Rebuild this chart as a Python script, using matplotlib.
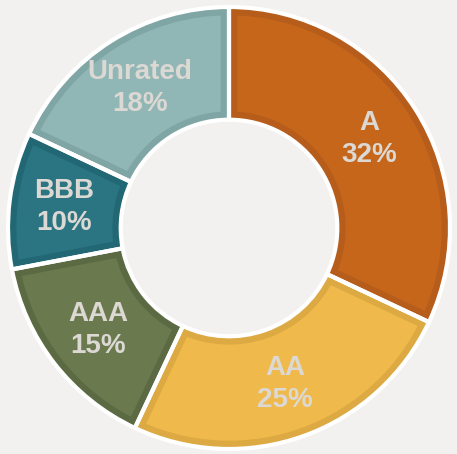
import numpy as np
import matplotlib.pyplot as plt

labels = ['A', 'AA', 'AAA', 'BBB', 'Unrated']
shares = [32, 25, 15, 10, 18]
fill_colors = ['#c5661b', '#f0b94b', '#6b7a4e', '#2a7581', '#90b6b5']
edge_colors = ['#b65d1c', '#dca942', '#5b6a42', '#226874', '#80a5a5']

bg = '#f3f1ef'
fig = plt.figure(figsize=(4.57, 4.54), dpi=100)
fig.patch.set_facecolor(bg)
ax = fig.add_axes([0, 0, 1, 1])
ax.set_facecolor(bg)

wedges, texts = ax.pie(shares, colors=fill_colors, startangle=90, counterclock=False,
                       radius=1.0, wedgeprops=dict(width=0.51))

# darker inner border on each slice (stroke clipped to the slice itself)
for w, ec in zip(wedges, edge_colors):
    w.set_edgecolor(ec)
    w.set_linewidth(12)
    w.set_clip_path(w)
    w.set_clip_on(True)

# white gaps between slices
gaps, _ = ax.pie(shares, colors=['none'] * len(shares), startangle=90, counterclock=False,
                 radius=1.0, wedgeprops=dict(width=0.51, edgecolor='white', linewidth=3, fill=False))
for g in gaps:
    g.set_clip_on(False)

total = sum(shares)
start = 90.0
for lab, s in zip(labels, shares):
    mid = np.deg2rad(start - 360 * s / total / 2)
    start -= 360 * s / total
    r = 0.75
    ax.text(r * np.cos(mid), r * np.sin(mid), f'{lab}\n{s}%', ha='center', va='center',
            color='#dcd8d4', fontsize=20, fontweight='bold', family='Liberation Sans',
            linespacing=1.3)

ax.set_xlim(-229 / 221, 228 / 221)
ax.set_ylim(-226 / 221, 228 / 221)
ax.set_aspect('auto')
ax.axis('off')

fig.savefig('out.png', dpi=100, facecolor=bg)
